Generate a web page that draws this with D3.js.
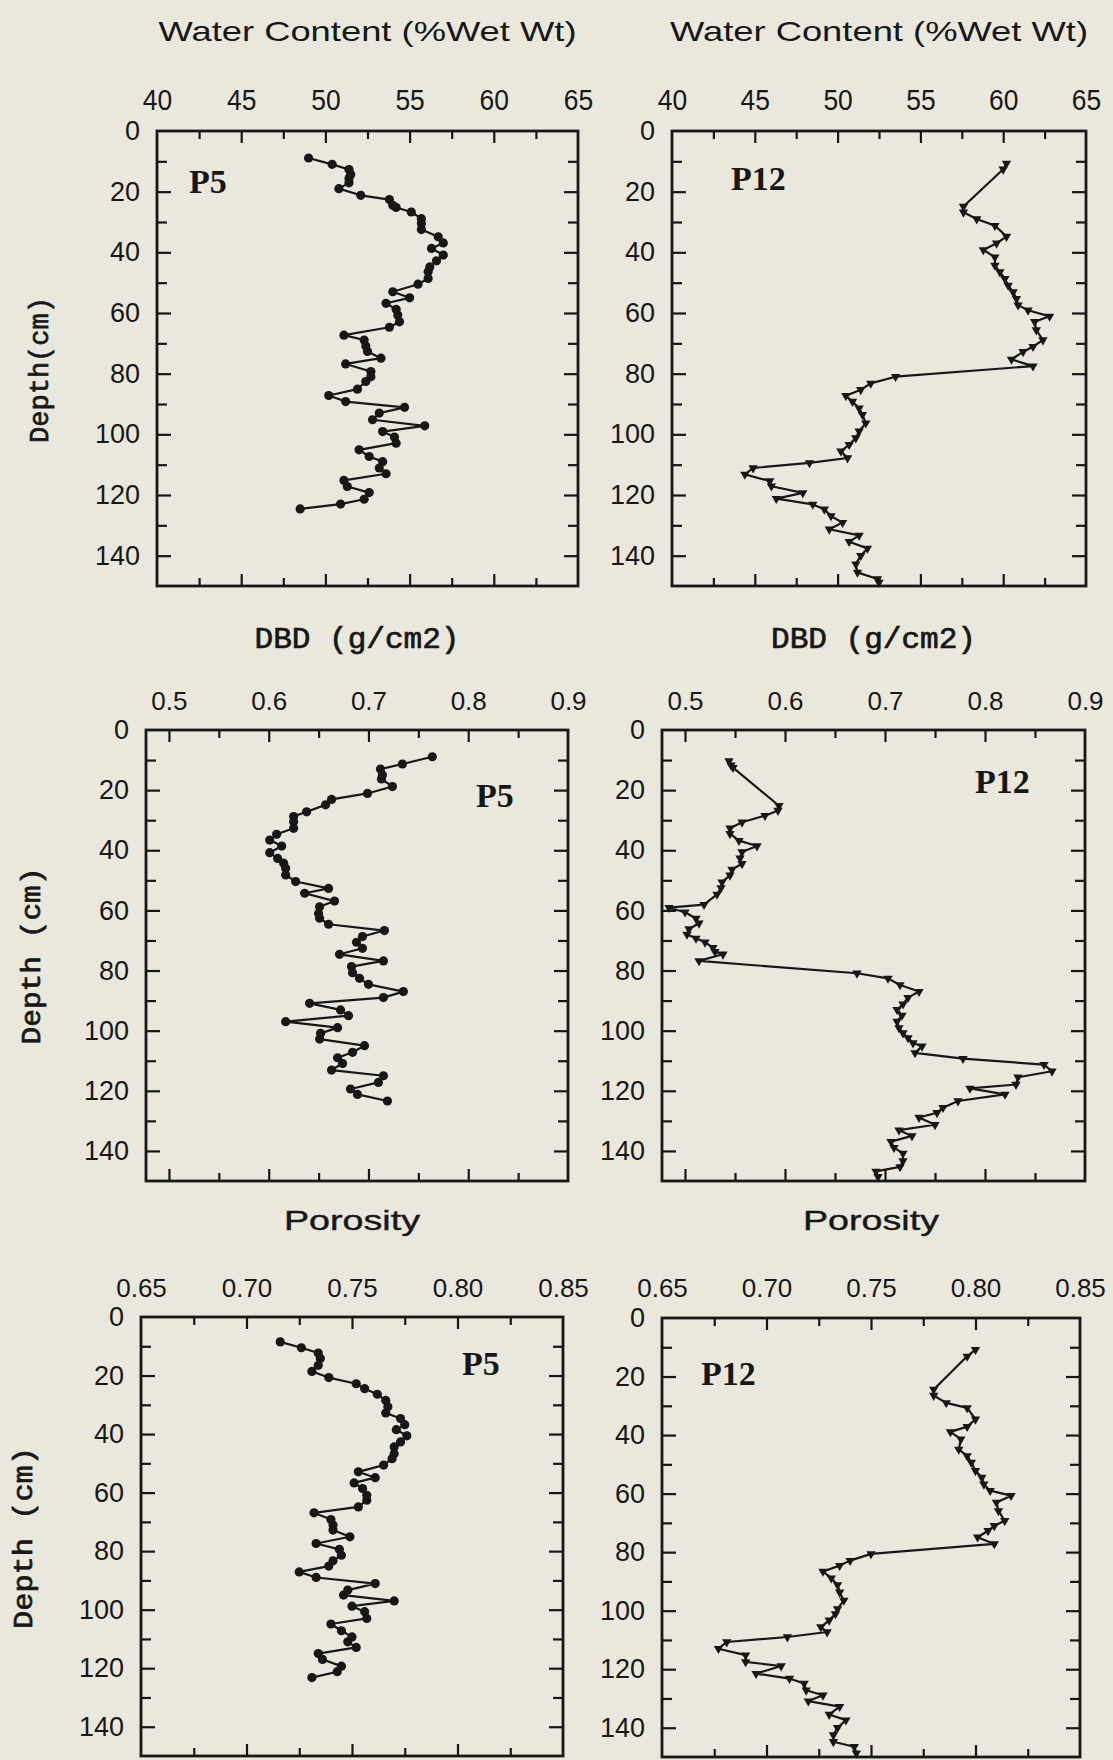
<!DOCTYPE html>
<html>
<head>
<meta charset="utf-8">
<script src="https://cdn.jsdelivr.net/npm/d3@7/dist/d3.min.js"></script>
<style>
  html, body { margin: 0; padding: 0; background: #eae8dd; }
  svg { display: block; }
</style>
</head>
<body>
<svg id="chart" width="1113" height="1760"></svg>
<script>
// ---- Core P5 : water content (% wet wt) ----
const p5WaterDepth = [8.9,11.0,12.7,14.3,15.7,17.1,19.0,21.2,22.6,24.5,25.2,26.7,28.9,30.5,32.5,34.9,36.9,38.7,40.9,42.8,44.8,46.4,48.6,50.5,53.0,55.0,56.8,58.8,60.7,62.9,64.7,67.3,68.9,70.9,72.7,74.9,76.8,79.3,81.0,82.6,85.1,87.2,89.2,91.1,93.0,95.2,97.2,99.1,100.9,102.9,105.1,107.3,109.0,111.1,113.0,115.2,117.2,119.2,121.4,123.0,124.6];
const p5Water = [49.0,50.4,51.4,51.5,51.4,51.4,50.8,52.1,53.8,54.0,54.2,55.1,55.7,55.7,55.7,56.7,57.0,56.3,57.0,56.6,56.2,56.1,56.1,55.5,54.0,55.0,53.6,54.2,54.3,54.4,53.8,51.1,52.3,52.4,52.5,53.3,51.2,52.7,52.7,52.4,51.9,50.2,51.2,54.7,53.2,52.8,55.9,53.4,54.1,54.2,52.0,52.6,53.4,53.2,53.6,51.1,51.3,52.6,52.3,50.9,48.5];

// ---- Core P12 : water content (% wet wt) ----
const p12WaterDepth = [10.7,12.6,24.9,26.8,29.0,31.2,34.8,37.0,39.2,41.6,44.3,46.5,48.7,50.9,53.1,55.3,57.4,59.1,61.1,62.9,65.6,68.9,71.1,72.8,75.3,77.5,81.0,83.2,85.3,87.3,89.2,91.4,93.5,96.3,99.0,101.2,103.4,105.6,107.8,109.4,111.1,113.2,115.4,117.1,119.3,121.2,123.1,124.7,126.9,129.1,131.3,133.3,135.4,137.6,140.0,142.8,145.5,147.7,148.8];
const p12Water = [60.2,60.0,57.6,57.6,58.4,59.5,60.2,59.6,58.8,59.5,59.5,59.8,60.1,60.3,60.6,60.8,60.9,61.5,62.8,61.9,62.0,62.4,61.8,61.2,60.5,61.8,53.5,52.0,51.4,50.5,50.9,51.3,51.5,51.7,51.3,51.1,50.7,50.2,50.6,48.3,44.9,44.4,45.9,46.0,47.9,46.3,48.5,49.2,49.6,50.3,49.5,51.3,50.7,51.8,51.4,51.1,51.2,52.4,52.5];

// ---- Core P5 : dry bulk density (g/cm2) ----
const p5DbdDepth = [8.9,11.3,13.0,15.0,16.3,18.8,21.1,23.1,24.9,27.2,28.8,30.5,32.7,34.7,36.6,38.6,40.8,42.7,44.3,46.0,48.2,50.4,52.7,54.3,56.9,58.8,61.0,62.6,64.6,66.7,68.7,70.6,72.6,74.6,76.8,78.7,80.7,82.6,84.6,87.0,89.0,90.9,93.1,95.0,97.0,99.0,100.9,102.8,105.0,107.2,109.0,110.9,113.1,115.0,117.2,119.4,121.2,123.4];
const p5Dbd = [0.764,0.734,0.712,0.714,0.713,0.724,0.699,0.663,0.657,0.638,0.625,0.625,0.625,0.608,0.601,0.613,0.601,0.609,0.615,0.617,0.617,0.627,0.660,0.636,0.666,0.651,0.650,0.651,0.660,0.716,0.694,0.688,0.694,0.671,0.715,0.683,0.684,0.691,0.700,0.735,0.715,0.641,0.672,0.680,0.617,0.669,0.652,0.651,0.696,0.684,0.669,0.674,0.663,0.715,0.710,0.682,0.689,0.719];

// ---- Core P12 : dry bulk density (g/cm2) ----
const p12DbdDepth = [10.3,11.7,12.5,25.2,26.8,28.5,30.7,32.7,34.5,36.8,38.6,40.6,42.6,44.5,46.4,48.3,50.6,52.5,54.7,58.1,59.1,60.6,62.7,64.3,66.2,68.0,69.3,70.6,72.4,73.7,74.6,76.8,80.9,82.6,84.8,87.0,89.0,91.2,93.0,94.9,96.9,99.1,100.8,102.4,104.1,105.2,107.4,109.3,111.3,113.5,115.5,117.9,119.2,121.2,123.4,125.6,127.3,128.9,131.3,133.1,135.0,136.9,138.9,140.8,143.3,145.3,146.8,148.6];
const p12Dbd = [0.544,0.546,0.548,0.594,0.593,0.580,0.557,0.545,0.545,0.554,0.572,0.557,0.555,0.557,0.547,0.545,0.537,0.536,0.532,0.519,0.484,0.500,0.511,0.514,0.504,0.502,0.511,0.520,0.528,0.530,0.538,0.514,0.672,0.703,0.715,0.734,0.723,0.718,0.712,0.717,0.712,0.714,0.718,0.723,0.728,0.737,0.730,0.778,0.859,0.867,0.833,0.831,0.785,0.820,0.773,0.758,0.752,0.734,0.750,0.714,0.727,0.706,0.709,0.718,0.718,0.715,0.691,0.693];

// ---- Core P5 : porosity ----
const p5PorDepth = [8.5,10.5,12.3,14.2,16.5,18.6,20.7,22.8,24.5,26.4,28.5,30.7,32.8,34.7,36.8,38.5,40.6,42.7,44.4,46.7,48.4,50.6,52.9,54.9,56.7,58.6,60.9,62.6,64.9,66.9,69.2,71.1,72.8,75.1,77.4,79.4,81.4,83.3,85.1,87.1,89.0,91.1,93.3,95.0,97.0,98.8,100.7,103.0,104.9,107.2,109.3,111.0,112.9,115.0,117.0,119.3,121.2,123.2];
const p5Por = [0.716,0.726,0.734,0.735,0.734,0.731,0.739,0.752,0.756,0.762,0.766,0.767,0.766,0.773,0.775,0.771,0.776,0.773,0.770,0.770,0.769,0.765,0.753,0.761,0.751,0.755,0.757,0.757,0.753,0.732,0.740,0.741,0.741,0.749,0.733,0.744,0.745,0.741,0.739,0.725,0.733,0.761,0.748,0.746,0.770,0.750,0.756,0.757,0.740,0.745,0.750,0.748,0.752,0.734,0.736,0.745,0.743,0.731];

// ---- Core P12 : porosity ----
const p12PorDepth = [10.8,13.1,24.4,26.5,29.0,30.7,34.6,37.1,38.9,41.4,44.9,47.1,49.4,52.2,54.5,56.8,59.0,60.7,63.0,65.9,69.3,71.0,72.7,74.9,77.2,80.6,82.9,84.6,86.6,88.9,91.2,93.7,96.5,99.4,101.1,103.3,105.6,107.3,109.0,110.7,113.0,115.2,117.5,118.9,121.5,123.2,124.9,127.2,128.9,130.9,132.8,135.5,137.4,140.0,142.5,144.8,146.5,148.7];
const p12Por = [0.800,0.796,0.780,0.780,0.786,0.796,0.800,0.796,0.788,0.793,0.792,0.796,0.798,0.800,0.803,0.804,0.807,0.817,0.810,0.811,0.814,0.809,0.806,0.801,0.809,0.750,0.740,0.735,0.727,0.731,0.734,0.735,0.737,0.734,0.733,0.730,0.726,0.729,0.710,0.681,0.677,0.690,0.690,0.707,0.695,0.711,0.718,0.719,0.727,0.720,0.735,0.730,0.738,0.734,0.732,0.732,0.742,0.743];

// ---- Axis tick values ----
const depthDomain = [0, 150];
const depthLabels = [0, 20, 40, 60, 80, 100, 120, 140];
const depthMajor = [20, 40, 60, 80, 100, 120, 140];
const depthMinor = [10, 30, 50, 70, 90, 110, 130];

const waterLabels = [40, 45, 50, 55, 60, 65];
const waterMajor = [45, 50, 55, 60];
const waterMinor = [42.5, 47.5, 52.5, 57.5, 62.5];

const dbdLabels = [0.5, 0.6, 0.7, 0.8, 0.9];
const dbdMajor = [0.5, 0.6, 0.7, 0.8];
const dbdMinor = [0.55, 0.65, 0.75, 0.85];

const porLabels = [0.65, 0.70, 0.75, 0.80, 0.85];
const porMajor = [0.70, 0.75, 0.80];
const porMinor = [0.675, 0.725, 0.775, 0.825];

// ---- Drawing ----
const W = 1113, H = 1760;
const ink = "#171717";
const paper = "#eae8dd";
const svg = d3.select("#chart");
svg.append("rect").attr("width", W).attr("height", H).attr("fill", paper);

const sans = "'Liberation Sans', Arial, sans-serif";
const mono = "'Liberation Mono', 'Courier New', monospace";

const rows = {
  water: { domain: [40, 65], labels: waterLabels, major: waterMajor, minor: waterMinor,
           fmt: d3.format("d"), title: "Water Content (%Wet Wt)", titleY: 41, labelY: 110,
           titleFont: sans, titleSize: 28, titleLen: 418, titleStroke: 0,
           labelSize: 30, labelSqueeze: 0.88, depthTitle: "Depth(cm)" },
  dbd:   { domain: [0.477, 0.9], labels: dbdLabels, major: dbdMajor, minor: dbdMinor,
           fmt: d3.format(".1f"), title: "DBD (g/cm2)", titleY: 648, labelY: 710,
           titleFont: mono, titleSize: 29, titleLen: 205, titleStroke: 0.7,
           labelSize: 26, labelSqueeze: 1, depthTitle: "Depth (cm)" },
  por:   { domain: [0.65, 0.85], labels: porLabels, major: porMajor, minor: porMinor,
           fmt: d3.format(".2f"), title: "Porosity", titleY: 1230, labelY: 1297,
           titleFont: sans, titleSize: 28, titleLen: 136, titleStroke: 0.4,
           labelSize: 26, labelSqueeze: 1, depthTitle: "Depth (cm)" }
};

const panels = [
  { row: "water", box: [157, 578, 131, 586], depth: p5WaterDepth, values: p5Water, core: "P5", mark: "dot",
    site: [189, 193], depthLabel: [39, 370, 146] },
  { row: "water", box: [672, 1086, 131, 586], depth: p12WaterDepth, values: p12Water, core: "P12", mark: "tri",
    site: [731, 190] },
  { row: "dbd", box: [146, 568, 730, 1181], depth: p5DbdDepth, values: p5Dbd, core: "P5", mark: "dot",
    site: [476, 807], depthLabel: [31, 956, 177] },
  { row: "dbd", box: [662, 1085, 730, 1181], depth: p12DbdDepth, values: p12Dbd, core: "P12", mark: "tri",
    site: [975, 793] },
  { row: "por", box: [141, 563, 1317, 1756], depth: p5PorDepth, values: p5Por, core: "P5", mark: "dot",
    site: [462, 1375], depthLabel: [23, 1538, 182] },
  { row: "por", box: [662, 1080, 1318, 1757], depth: p12PorDepth, values: p12Por, core: "P12", mark: "tri",
    site: [701, 1385] }
];

function styleText(sel, family, size, stroke) {
  sel.attr("font-family", family).attr("font-size", size).attr("fill", ink);
  if (stroke) sel.attr("stroke", ink).attr("stroke-width", stroke);
}

panels.forEach(p => {
  const r = rows[p.row];
  const [x0, x1, y0, y1] = p.box;
  const x = d3.scaleLinear().domain(r.domain).range([x0, x1]);
  const y = d3.scaleLinear().domain(depthDomain).range([y0, y1]);
  const g = svg.append("g");

  // inward tick marks on all four sides
  const tickGroups = [
    { axis: d3.axisTop(x).tickValues(r.major).tickSize(-12), t: [0, y0] },
    { axis: d3.axisTop(x).tickValues(r.minor).tickSize(-8), t: [0, y0] },
    { axis: d3.axisBottom(x).tickValues(r.major).tickSize(-12), t: [0, y1] },
    { axis: d3.axisBottom(x).tickValues(r.minor).tickSize(-8), t: [0, y1] },
    { axis: d3.axisLeft(y).tickValues(depthMajor).tickSize(-14), t: [x0, 0] },
    { axis: d3.axisLeft(y).tickValues(depthMinor).tickSize(-10), t: [x0, 0] },
    { axis: d3.axisRight(y).tickValues(depthMajor).tickSize(-14), t: [x1, 0] },
    { axis: d3.axisRight(y).tickValues(depthMinor).tickSize(-10), t: [x1, 0] }
  ];
  tickGroups.forEach(tg => {
    const a = g.append("g").attr("transform", `translate(${tg.t[0]},${tg.t[1]})`)
      .call(tg.axis.tickFormat(""));
    a.select(".domain").remove();
    a.selectAll(".tick line").attr("stroke", ink).attr("stroke-width", 2.2);
  });

  // frame
  g.append("rect").attr("x", x0).attr("y", y0).attr("width", x1 - x0).attr("height", y1 - y0)
    .attr("fill", "none").attr("stroke", ink).attr("stroke-width", 2.8);

  // value labels above the frame
  const xl = g.append("g").attr("transform", `translate(0,${r.labelY})`)
    .call(d3.axisTop(x).tickValues(r.labels).tickFormat(r.fmt).tickSize(0).tickPadding(0));
  xl.select(".domain").remove();
  styleText(xl.selectAll("text"), sans, r.labelSize);
  if (r.labelSqueeze !== 1) {
    xl.selectAll(".tick text").attr("transform", `scale(${r.labelSqueeze},1)`);
  }

  // depth labels left of the frame
  const yl = g.append("g").attr("transform", `translate(${x0},0)`)
    .call(d3.axisLeft(y).tickValues(depthLabels).tickSize(0).tickPadding(17));
  yl.select(".domain").remove();
  styleText(yl.selectAll("text"), sans, 27);

  // column title
  styleText(g.append("text")
    .attr("x", (x0 + x1) / 2).attr("y", r.titleY).attr("text-anchor", "middle")
    .attr("textLength", r.titleLen).attr("lengthAdjust", "spacingAndGlyphs")
    .text(r.title), r.titleFont, r.titleSize, r.titleStroke);

  // depth axis title
  if (p.depthLabel) {
    const [cx, cy, len] = p.depthLabel;
    styleText(g.append("text")
      .attr("transform", `translate(${cx + 9},${cy}) rotate(-90)`)
      .attr("text-anchor", "middle")
      .attr("textLength", len).attr("lengthAdjust", "spacingAndGlyphs")
      .text(r.depthTitle), mono, 27, 0.7);
  }

  // profile line and sample markers
  const pts = p.depth.map((d, i) => [p.values[i], d]);
  const line = d3.line().x(d => x(d[0])).y(d => y(d[1]));
  g.append("path").datum(pts).attr("d", line)
    .attr("fill", "none").attr("stroke", ink).attr("stroke-width", 2.2).attr("stroke-linejoin", "round");

  if (p.mark === "dot") {
    g.selectAll("circle.s").data(pts).join("circle")
      .attr("cx", d => x(d[0])).attr("cy", d => y(d[1])).attr("r", 4.6).attr("fill", ink);
  } else {
    const tri = d3.symbol().type(d3.symbolTriangle).size(38);
    g.selectAll("path.s").data(pts).join("path")
      .attr("transform", d => `translate(${x(d[0])},${y(d[1])}) rotate(180)`)
      .attr("d", tri).attr("fill", ink);
  }

  // core name
  styleText(g.append("text").attr("x", p.site[0]).attr("y", p.site[1])
    .attr("font-weight", "bold").text(p.core),
    "'Liberation Serif', 'Times New Roman', serif", 34);
});
</script>
</body>
</html>
